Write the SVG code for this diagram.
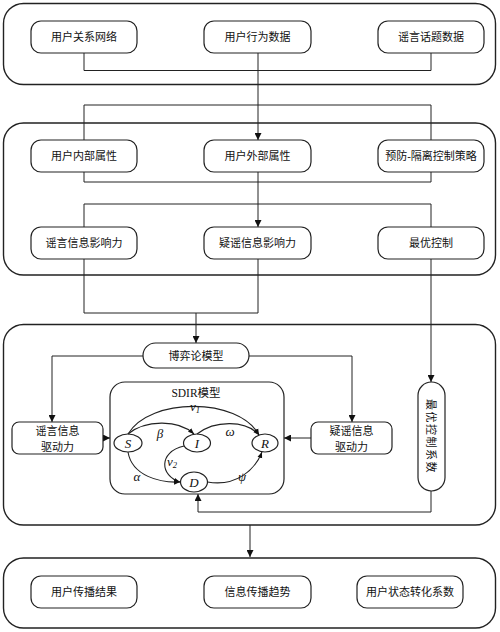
<svg xmlns="http://www.w3.org/2000/svg" width="500" height="632" viewBox="0 0 500 632">
<style>
.cont{fill:none;stroke:#222;stroke-width:1.4}
.box{fill:#fff;stroke:#222;stroke-width:1.2}
.t{font-family:"Liberation Sans","Noto Sans CJK SC",sans-serif;font-size:11px;fill:#111;text-anchor:middle}
.s{font-family:"Liberation Serif","Noto Sans CJK SC",serif;font-size:11.5px;fill:#111;text-anchor:middle}
.si{font-family:"Liberation Serif",serif;font-style:italic;font-size:13px;fill:#111;text-anchor:middle}
.ln{fill:none;stroke:#222;stroke-width:1}
.la{fill:none;stroke:#222;stroke-width:1;marker-end:url(#ah)}
.cv{fill:none;stroke:#222;stroke-width:1.1;marker-end:url(#sh)}
</style>
<defs>
<marker id="ah" viewBox="0 0 10 10" refX="10" refY="5" markerWidth="7" markerHeight="7" markerUnits="userSpaceOnUse" orient="auto"><path d="M0,0 L10,5 L0,10 z" fill="#111"/></marker>
<marker id="sh" viewBox="0 0 10 10" refX="10" refY="5" markerWidth="6" markerHeight="6" markerUnits="userSpaceOnUse" orient="auto"><path d="M0,1 L10,5 L0,9 z" fill="#111"/></marker>
</defs>
<rect width="500" height="632" fill="#fff"/>
<g id="containers">
<rect class="cont" x="3.5" y="3.5" width="492" height="81" rx="20"/>
<rect class="cont" x="3.5" y="123" width="492" height="152" rx="20"/>
<rect class="cont" x="3.5" y="324.5" width="492" height="200.5" rx="20"/>
<rect class="cont" x="3.5" y="558" width="492" height="70" rx="20"/>
</g>
<g id="connectors">
<path class="ln" d="M84,53 V70.5 H431 V53"/>
<path class="la" d="M258,53 V140"/>
<path class="ln" d="M84,140 V105 H431 V140"/>
<path class="ln" d="M84,172 V182 H431 V172"/>
<path class="la" d="M258,172 V227"/>
<path class="ln" d="M84,227 V204 H431 V227"/>
<path class="ln" d="M84,259 V313 H258 V259"/>
<path class="la" d="M196,313 V343"/>
<path class="la" d="M431,259 V382"/>
<path class="la" d="M143,356 H52 V422"/>
<path class="la" d="M249,356 H352 V422"/>
<path class="la" d="M103,438 H110"/>
<path class="la" d="M311,438 H284"/>
<path class="la" d="M431,491 V512 H198 V494"/>
<path class="la" d="M250,525 V557"/>
</g>
<g id="n1"><rect class="box" x="31" y="21" width="106" height="32" rx="10"/><text class="t" x="84" y="41">用户关系网络</text></g>
<g id="n2"><rect class="box" x="204" y="21" width="107" height="32" rx="10"/><text class="t" x="257.5" y="41">用户行为数据</text></g>
<g id="n3"><rect class="box" x="378" y="21" width="106" height="32" rx="10"/><text class="t" x="431" y="41">谣言话题数据</text></g>
<g id="n4"><rect class="box" x="31" y="140" width="106" height="32" rx="10"/><text class="t" x="84" y="160">用户内部属性</text></g>
<g id="n5"><rect class="box" x="204" y="140" width="107" height="32" rx="10"/><text class="t" x="257.5" y="160">用户外部属性</text></g>
<g id="n6"><rect class="box" x="378" y="140" width="106" height="32" rx="10"/><text class="t" x="431" y="160">预防-隔离控制策略</text></g>
<g id="n7"><rect class="box" x="31" y="227" width="106" height="32" rx="10"/><text class="t" x="84" y="247">谣言信息影响力</text></g>
<g id="n8"><rect class="box" x="204" y="227" width="107" height="32" rx="10"/><text class="t" x="257.5" y="247">疑谣信息影响力</text></g>
<g id="n9"><rect class="box" x="378" y="227" width="106" height="32" rx="10"/><text class="t" x="431" y="247">最优控制</text></g>
<g id="n10"><rect class="box" x="143" y="343" width="106" height="25" rx="12.5"/><text class="t" x="196" y="359.5">博弈论模型</text></g>
<g id="n11"><rect class="box" x="12" y="422" width="91" height="32" rx="7"/><text class="t" x="57.5" y="434.5">谣言信息</text><text class="t" x="57.5" y="451">驱动力</text></g>
<g id="n12"><rect class="box" x="311" y="422" width="81" height="32" rx="7"/><text class="t" x="351.5" y="434.5">疑谣信息</text><text class="t" x="351.5" y="451">驱动力</text></g>
<g id="n13"><rect class="box" x="418" y="382" width="27" height="109" rx="13.5"/><text class="t" x="0" y="0" transform="translate(427,436.5) rotate(90)" letter-spacing="1.5">最优控制系数</text></g>
<g id="sdir">
<rect class="box" x="110" y="382" width="174" height="112" rx="15"/>
<text class="s" x="196" y="397">SDIR模型</text>
<ellipse class="box" cx="128" cy="443" rx="14" ry="9"/>
<ellipse class="box" cx="197" cy="443" rx="13.5" ry="9"/>
<ellipse class="box" cx="265" cy="443" rx="13" ry="9"/>
<ellipse class="box" cx="194" cy="482" rx="13.5" ry="10"/>
<text class="si" x="128" y="447.5">S</text>
<text class="si" x="197" y="447.5">I</text>
<text class="si" x="265" y="447.5">R</text>
<text class="si" x="194" y="486.5">D</text>
<path class="cv" d="M128,434 C150,397 238,397 259,435"/>
<path class="cv" d="M128,434 C145,420 178,419 194,434"/>
<path class="cv" d="M197,434 C215,420 246,420 259,435"/>
<path class="cv" d="M184,446 C158,452 160,476 180,482"/>
<path class="cv" d="M128,452 C132,476 160,483 180,482"/>
<path class="cv" d="M207.5,482 C236,487 255,470 262,452"/>
<text class="si" x="195" y="411">v<tspan font-size="8.5" dy="2">1</tspan></text>
<text class="si" x="160" y="438">β</text>
<text class="si" x="230" y="436">ω</text>
<text class="si" x="172" y="466">v<tspan font-size="8.5" dy="2">2</tspan></text>
<text class="si" x="137" y="481">α</text>
<text class="si" x="242" y="481">ψ</text>
</g>
<g id="n14"><rect class="box" x="31" y="576" width="106" height="32" rx="10"/><text class="t" x="84" y="596">用户传播结果</text></g>
<g id="n15"><rect class="box" x="204" y="576" width="107" height="32" rx="10"/><text class="t" x="257.5" y="596">信息传播趋势</text></g>
<g id="n16"><rect class="box" x="357" y="576" width="106" height="32" rx="10"/><text class="t" x="410" y="596">用户状态转化系数</text></g>
</svg>
